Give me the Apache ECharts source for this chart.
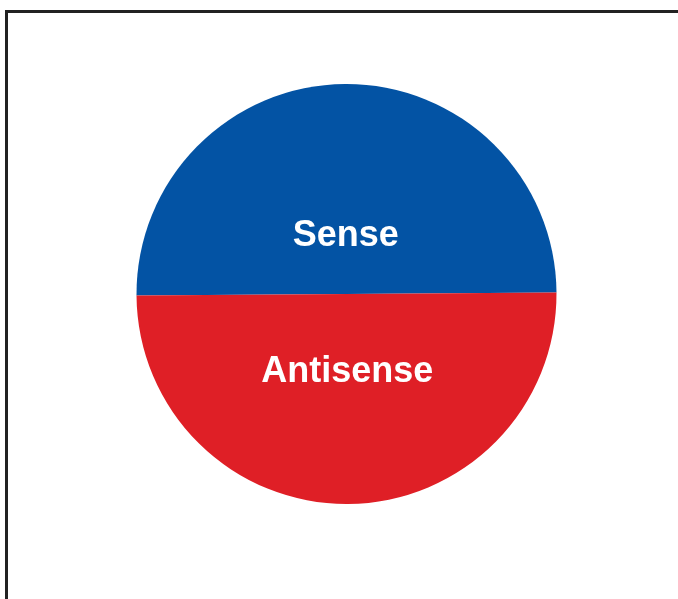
<!DOCTYPE html>
<html>
<head>
<meta charset="utf-8">
<script src="https://cdn.jsdelivr.net/npm/echarts@6/dist/echarts.min.js"></script>
<style>
  html, body { margin: 0; padding: 0; background: #fff; }
  #chart { width: 678px; height: 599px; }
</style>
</head>
<body>
<div id="chart"></div>
<script>
const categories = ['Sense', 'Antisense'];
const values = [50, 50];
const colors = ['#0353A4', '#DF1F26'];

const myChart = echarts.init(document.getElementById('chart'));

let option = {
  backgroundColor: '#fff',
  animation: false,
  graphic: [
    {
      type: 'rect',
      shape: { x: 6.5, y: 11.5, width: 1000, height: 1000 },
      style: { fill: 'none', stroke: '#222', lineWidth: 3 },
      silent: true
    }
  ],
  series: [
    {
      type: 'pie',
      center: [346.5, 294],
      radius: [0, 210],
      startAngle: 180.4,
      clockwise: true,
      emphasis: { disabled: true },
      label: {
        show: true,
        position: 'inner',
        formatter: '{b}',
        color: '#fff',
        fontFamily: 'Liberation Sans, Arial, sans-serif',
        fontWeight: 'bold',
        fontSize: 36
      },
      labelLine: { show: false },
      labelLayout: function (params) {
        return { dy: params.dataIndex === 0 ? 50 : -30 };
      },
      data: categories.map((name, i) => ({
        name: name,
        value: values[i],
        itemStyle: { color: colors[i] }
      }))
    }
  ]
};

option && myChart.setOption(option);
</script>
</body>
</html>
